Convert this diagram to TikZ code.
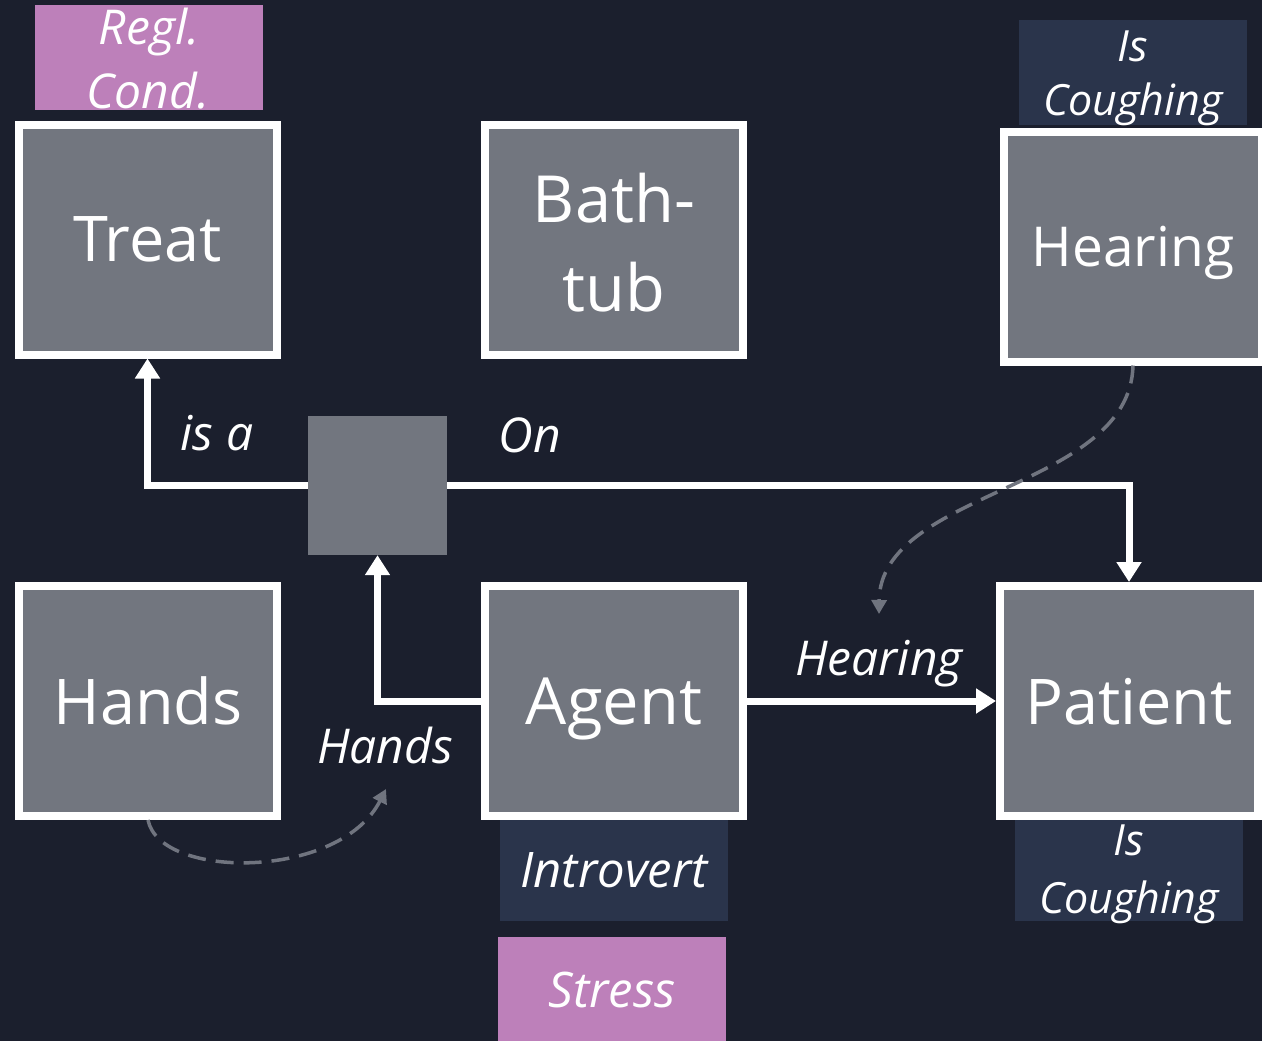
\documentclass[tikz,border=0pt]{standalone}
\usepackage{fontspec}
\setmainfont{Open Sans}
\usetikzlibrary{arrows.meta}
\definecolor{bg}{HTML}{1B1F2D}
\definecolor{boxgray}{HTML}{72767F}
\definecolor{navy}{HTML}{2A344B}
\definecolor{mauve}{HTML}{BD80BA}
\definecolor{dgray}{HTML}{70747F}
\begin{document}
\begin{tikzpicture}[x=1pt,y=-1pt,
  box/.style={draw=white, line width=8pt, fill=boxgray, minimum width=258pt,
    minimum height=230pt, inner sep=0pt, text=white, text depth=0pt},
  big/.style={font=\fontsize{#1}{#1}\selectfont},
  tag/.style={fill=#1, inner sep=0pt, minimum width=228pt},
  tagtext/.style={text=white, anchor=base, inner sep=0pt, font=\fontsize{#1}{#1}\selectfont\itshape},
  lab/.style={text=white, anchor=base, inner sep=0pt, font=\fontsize{48}{48}\selectfont\itshape},
  link/.style={draw=white, line width=7pt, -{Triangle[width=24pt,length=20pt]}},
  dashlink/.style={draw=dgray, line width=3.5pt, dash pattern=on 18pt off 10pt,
    -{Triangle[width=15pt,length=14pt]}}]
  % canvas
  \fill[bg] (0,0) rectangle (1262,1041);
  \useasboundingbox (0,0) rectangle (1262,1041);

  % tags above the boxes
  \node[tag=mauve, minimum height=105pt] (regl) at (149,57.5) {};
  \node[tagtext=48] (reglA) at (149,45) {Regl.};
  \node[tagtext=48] (reglB) at (148,108) {Cond.};
  \node[tag=navy, minimum height=105pt] (coughTop) at (1133,72.5) {};
  \node[tagtext=43] (coughTopA) at (1133,62) {Is};
  \node[tagtext=43] (coughTopB) at (1133,116) {Coughing};

  % concept boxes
  \node[box, big=63] (treat) at (147.5,239.5) {Treat};
  \node[box] (bath) at (614,240) {};
  \node[text=white, anchor=base, inner sep=0pt, big=65] (bathA) at (614,222) {Bath-};
  \node[text=white, anchor=base, inner sep=0pt, big=65] (bathB) at (614,311) {tub};
  \node[box, big=55] (hearing) at (1133,246.5) {Hearing};
  \node[box, big=63] (hands) at (148,701) {Hands};
  \node[box, big=65] (agent) at (614,701) {Agent};
  \node[box, big=63] (patient) at (1129,701) {Patient};

  % relation hub
  \node[fill=boxgray, inner sep=0pt, minimum size=139pt] (hub) at (377.5,485.5) {};

  % tags below the boxes
  \node[tag=navy, minimum height=101pt] (introvert) at (614,870.5) {};
  \node[tagtext=49] (introvertT) at (614,887) {Introvert};
  \node[tag=mauve, minimum height=104pt] (stress) at (612,989) {};
  \node[tagtext=49] (stressT) at (612,1007) {Stress};
  \node[tag=navy, minimum height=101pt] (coughBot) at (1129,870.5) {};
  \node[tagtext=43] (coughBotA) at (1129,855) {Is};
  \node[tagtext=43] (coughBotB) at (1129,913) {Coughing};

  % relations
  \draw[link] (hub.west) -| (treat.south);
  \draw[link] (hub.east) -| (patient.north);
  \draw[link] (agent.west) -| (hub.south);
  \draw[link] (agent.east) -- (patient.west);

  \node[lab] (isa) at (217,450) {is a};
  \node[lab] (on) at (530,452) {On};
  \node[lab] (handsLab) at (385,763) {Hands};
  \node[lab] (hearingLab) at (879,675) {Hearing};

  % role hints
  \coordinate (handsTip) at (386,789);
  \coordinate (hearingTip) at (879,614);
  \draw[dashlink] (hands.south) .. controls (160,880) and (340,880) .. (handsTip);
  \draw[dashlink] (hearing.south) .. controls (1130,490) and (880,490) .. (hearingTip);
\end{tikzpicture}
\end{document}
